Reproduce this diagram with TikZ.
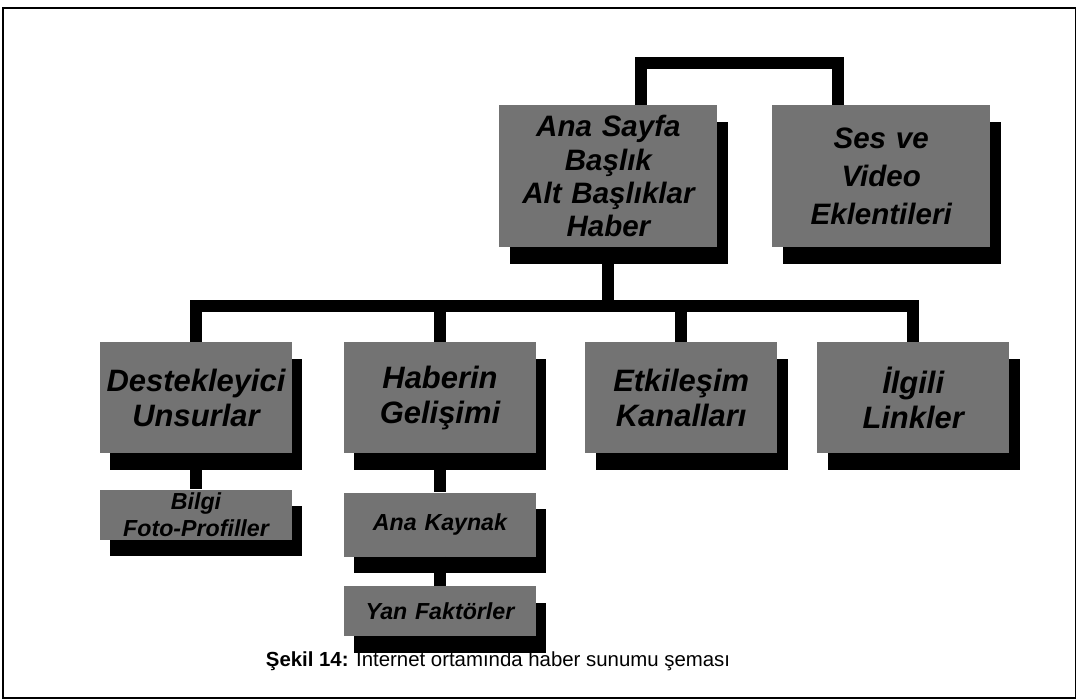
\documentclass[tikz,border=0pt]{standalone}
\usepackage{fontspec}
\setmainfont{Liberation Sans}
\usepackage{tikz}
\usetikzlibrary{positioning, shadows}
\tikzset{
  pagebox/.style={fill=black!55, inner sep=0pt,
    minimum width=5.45cm, minimum height=3.55cm,
    text width=5.3cm, align=center,
    font=\fontsize{21}{23.5}\selectfont\bfseries\itshape,
    drop shadow={shadow xshift=0.26cm, shadow yshift=-0.42cm,
      fill=black, opacity=1}},
  partbox/.style={fill=black!55, inner sep=0pt,
    minimum width=4.8cm, minimum height=2.775cm,
    text width=4.7cm, align=center,
    font=\fontsize{22}{25}\selectfont\bfseries\itshape,
    drop shadow={shadow xshift=0.26cm, shadow yshift=-0.42cm,
      fill=black, opacity=1}},
  smallbox/.style={fill=black!55, inner sep=0pt,
    minimum width=4.8cm, minimum height=1.25cm,
    text width=4.7cm, align=center,
    font=\fontsize{16.5}{19}\selectfont\bfseries\itshape,
    drop shadow={shadow xshift=0.26cm, shadow yshift=-0.42cm,
      fill=black, opacity=1}},
  mainline/.style={line width=8.5pt, color=black},
  captext/.style={font=\fontsize{14.5}{17}\selectfont}
}
\begin{document}
\begin{tikzpicture}

  \useasboundingbox (0,0) rectangle (26.925,-17.5);
  \draw[line width=1pt] (0.075,-0.2) rectangle (26.88,-17.45);

  % top row
  \node[pagebox] (ana) at (15.21,-4.40)
    {Ana Sayfa\\Başlık\\Alt Başlıklar\\Haber};
  \node[pagebox, font=\fontsize{21}{27}\selectfont\bfseries\itshape]
    (ses) at (22.03,-4.40)
    {Ses ve\\Video\\Eklentileri};

  % second row
  \node[partbox] (destek) at (4.90,-9.94) {Destekleyici\\Unsurlar};
  \node[partbox] (gelisim) at (11.00,-9.94) {Haberin\\Gelişimi};
  \node[partbox] (etkilesim) at (17.03,-9.94) {Etkileşim\\Kanalları};
  \node[partbox] (linkler) at (22.83,-9.94) {İlgili\\Linkler};

  % third row
  \node[smallbox, below=0.9cm of destek] (bilgi)
    {Bilgi\\Foto-Profiller};
  \node[smallbox, minimum height=1.6cm, below=0.975cm of gelisim] (kaynak)
    {Ana Kaynak};
  \node[smallbox, below=0.725cm of kaynak] (yan)
    {Yan Faktörler};

  % connectors
  \draw[mainline] ([xshift=0.825cm]ana.north) -- ++(0,1.05)
    -| ([xshift=-1.075cm]ses.north);
  \draw[mainline] (ana.south) -- ++(0,-1.475) coordinate (bus);
  \draw[mainline] (destek.north) |- (bus) -| (linkler.north);
  \draw[mainline] (gelisim.north) -- (gelisim.north |- bus);
  \draw[mainline] (etkilesim.north) -- (etkilesim.north |- bus);
  \draw[mainline] (destek.south) -- (bilgi.north);
  \draw[mainline] (gelisim.south) -- (kaynak.north);
  \draw[mainline] (kaynak.south) -- (yan.north);

  \node[captext] (caption) at (12.45,-16.5)
    {\textbf{Şekil 14:} İnternet ortamında haber sunumu şeması};

\end{tikzpicture}
\end{document}
